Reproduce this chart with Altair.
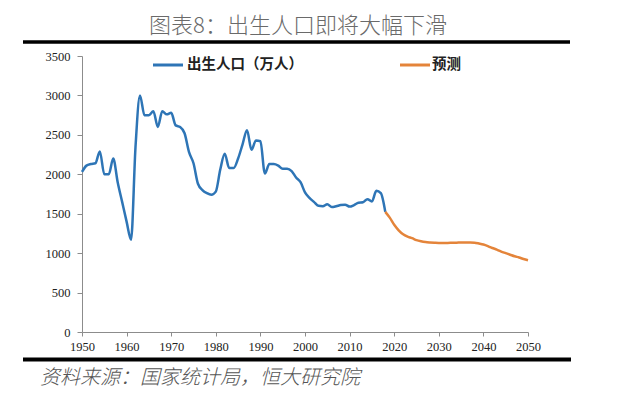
import altair as alt
import pandas as pd

# ---- data ----
hist_years = list(range(1950, 2019))
hist_births = [2030, 2110, 2130, 2140, 2290, 2000, 2000, 2200, 1900, 1650,
               1400, 1170, 2350, 3000, 2750, 2750, 2800, 2600, 2800, 2760,
               2780, 2620, 2600, 2520, 2280, 2140, 1880, 1800, 1760, 1740,
               1780, 2060, 2260, 2080, 2080, 2200, 2380, 2560, 2310, 2430,
               2420, 2010, 2130, 2130, 2110, 2070, 2070, 2040, 1960, 1900,
               1770, 1700, 1650, 1600, 1595, 1620, 1585, 1595, 1610, 1615,
               1590, 1610, 1640, 1645, 1685, 1655, 1790, 1760, 1523]

fc_years = list(range(2018, 2051))
fc_births = [1523, 1450, 1360, 1290, 1240, 1210, 1190, 1165, 1150, 1140,
             1135, 1132, 1130, 1130, 1130, 1132, 1133, 1135, 1135, 1135,
             1132, 1122, 1110, 1090, 1065, 1045, 1020, 1000, 980, 960,
             945, 925, 910]

x_ticks = list(range(1950, 2051, 10))
y_ticks = list(range(0, 3501, 500))

title_text = "图表8：出生人口即将大幅下滑"
source_text = "资料来源：国家统计局，恒大研究院"
legend_labels = ["出生人口（万人）", "预测"]
colors = ["#2E75B6", "#E4843A"]

hist_df = pd.DataFrame({"year": hist_years, "births": hist_births})
fc_df = pd.DataFrame({"year": fc_years, "births": fc_births})

W, H = 446, 276

xscale = alt.Scale(domain=[1950, 2050], nice=False)
yscale = alt.Scale(domain=[0, 3500], nice=False)

xaxis = alt.Axis(values=x_ticks, format="d", title="", labelFont="Liberation Serif",
                 labelFontSize=12.5, labelColor="#222", tickSize=4, labelPadding=4,
                 domainColor="#8c8c8c", tickColor="#8c8c8c", grid=False,
                 labelFlush=False, labelOverlap=False)
yaxis = alt.Axis(values=y_ticks, format="d", title="", labelFont="Liberation Serif",
                 labelFontSize=12.5, labelColor="#222", tickSize=5, labelPadding=7,
                 domainColor="#8c8c8c", tickColor="#8c8c8c", grid=False,
                 labelOverlap=False)

enc_x = alt.X("year:Q", scale=xscale, axis=xaxis)
enc_y = alt.Y("births:Q", scale=yscale, axis=yaxis)

hist = alt.Chart(hist_df).mark_line(color=colors[0], strokeWidth=2.5,
                                    interpolate="monotone").encode(x=enc_x, y=enc_y)
fc = alt.Chart(fc_df).mark_line(color=colors[1], strokeWidth=2.5,
                                interpolate="monotone").encode(x=enc_x, y=enc_y)

one = pd.DataFrame({"k": [0]})

def rule(x1, x2, y, color, w):
    return alt.Chart(one).mark_rule(color=color, strokeWidth=w).encode(
        x=alt.value(x1), x2=alt.value(x2), y=alt.value(y))

def text(t, x, y, **kw):
    return alt.Chart(pd.DataFrame({"t": [t]})).mark_text(**kw).encode(
        text="t:N", x=alt.value(x), y=alt.value(y))

# origin of plot area is at page (82, 56)
top_rule = rule(-59, 488, -14, "#000", 3.5)
bottom_rule = rule(-59, 489, 303.5, "#000", 4)
title = text(title_text, 216, -30, font="Noto Sans CJK SC", fontSize=22, fontWeight=300,
             color="#6a6a6a", align="center", baseline="middle")
source = text(source_text, -42, 322, font="Noto Sans CJK SC", fontSize=20, color="#555",
              fontStyle="italic", fontWeight=300, align="left", baseline="middle")
leg1_line = rule(71, 101, 9, colors[0], 3)
leg2_line = rule(318, 348, 9, colors[1], 3)
leg1_text = text(legend_labels[0], 105, 9, font="Noto Sans CJK SC", fontSize=14.5,
                 fontWeight="bold", color="#222", align="left", baseline="middle")
leg2_text = text(legend_labels[1], 350, 9, font="Noto Sans CJK SC", fontSize=14.5,
                 fontWeight="bold", color="#222", align="left", baseline="middle")

chart = alt.layer(
    hist, fc, top_rule, bottom_rule, title, source,
    leg1_line, leg2_line, leg1_text, leg2_text
).properties(
    width=W, height=H,
    autosize=alt.AutoSizeParams(type="none"),
    padding={"left": 74, "top": 48, "right": 100, "bottom": 58},
    background="white",
).configure_view(stroke=None)

chart.save("out.html", embed_options={"renderer": "svg", "actions": False})
